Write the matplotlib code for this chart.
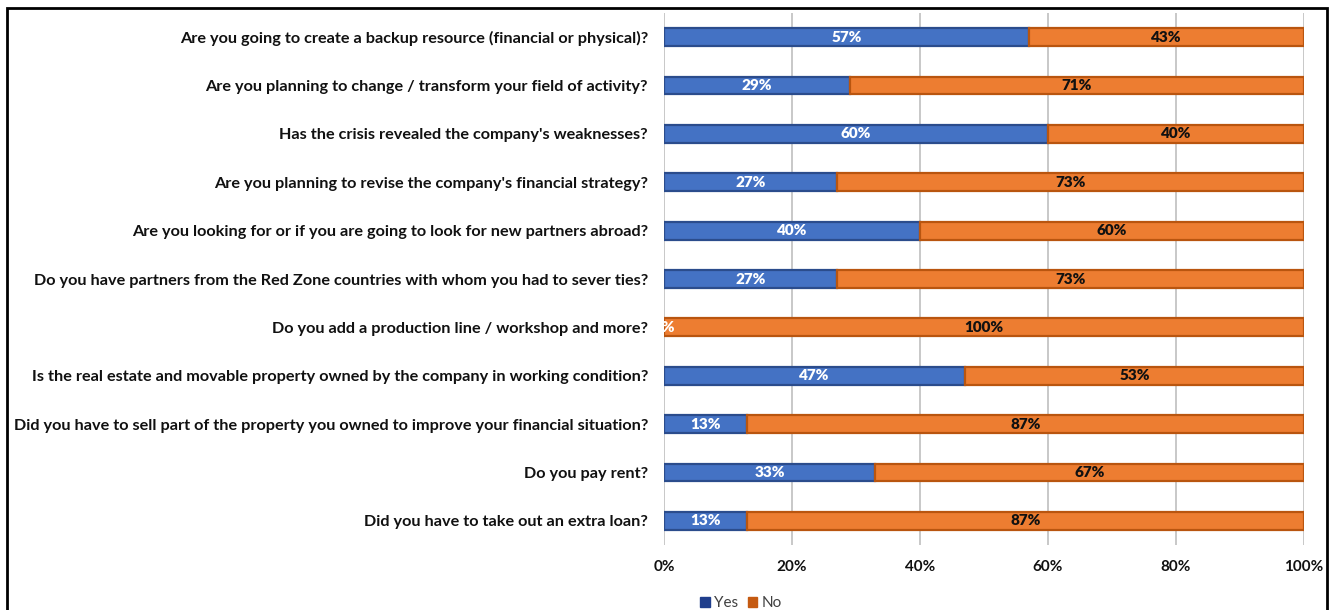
import matplotlib
matplotlib.use("Agg")
import matplotlib.pyplot as plt
from matplotlib.patches import Rectangle, Patch

questions = [
    "Are you going to create a backup resource (financial or physical)?",
    "Are you planning to change / transform your field of activity?",
    "Has the crisis revealed the company's weaknesses?",
    "Are you planning to revise the company's financial strategy?",
    "Are you looking for or if you are going to look for new partners abroad?",
    "Do you have partners from the Red Zone countries with whom you had to sever ties?",
    "Do you add a production line / workshop and more?",
    "Is the real estate and movable property owned by the company in working condition?",
    "Did you have to sell part of the property you owned to improve your financial situation?",
    "Do you pay rent?",
    "Did you have to take out an extra loan?",
]
yes_pct = [57, 29, 60, 27, 40, 27, 0, 47, 13, 33, 13]
no_pct = [43, 71, 40, 73, 60, 73, 100, 53, 87, 67, 87]
x_ticks = [0, 20, 40, 60, 80, 100]

FONT = ["Lato", "DejaVu Sans"]
plt.rcParams["font.family"] = FONT

W, H = 1335, 610
fig = plt.figure(figsize=(W / 100, H / 100), dpi=100)
fig.patch.set_facecolor("white")

ax = fig.add_axes([664 / W, 1 - 545 / H, 640 / W, 532 / H])

pos = list(range(len(questions)))
bar_h = 0.37
blue, blue_edge = "#4472C4", "#2B4C8C"
orange, orange_edge = "#ED7D31", "#B9550F"

ax.barh(pos, yes_pct, height=bar_h, color=blue, edgecolor=blue_edge,
        linewidth=1.6, zorder=3, label="Yes")
ax.barh(pos, no_pct, left=yes_pct, height=bar_h, color=orange,
        edgecolor=orange_edge, linewidth=1.6, zorder=3, label="No")

for p, y, n in zip(pos, yes_pct, no_pct):
    ax.text(y / 2, p, f"{y}%", ha="center", va="center", color="white",
            fontsize=11, fontweight="heavy", zorder=5, clip_on=False)
    ax.text(y + n / 2, p, f"{n}%", ha="center", va="center", color="#111111",
            fontsize=11, fontweight="heavy", zorder=5)

ax.set_xlim(0, 100)
ax.set_ylim(len(questions) - 0.5, -0.5)
ax.set_xticks(x_ticks)
ax.set_xticklabels([f"{t}%" for t in x_ticks], fontsize=11, fontweight="bold",
                   color="#111111")
ax.set_yticks(pos)
ax.set_yticklabels(questions, fontsize=11.7, fontweight="bold", color="#111111")
ax.tick_params(axis="both", length=0)
ax.tick_params(axis="x", pad=11)
ax.tick_params(axis="y", pad=11.5)
ax.grid(axis="x", color="#BFBFBF", linewidth=1.2, zorder=0)
ax.set_axisbelow(True)
for s in ax.spines.values():
    s.set_visible(False)

handles = [Patch(facecolor="#1F3E8C", edgecolor="#1F3E8C"),
           Patch(facecolor="#C55A11", edgecolor="#C55A11")]
fig.legend(handles, ["Yes", "No"], loc="center", bbox_to_anchor=(741 / W, 1 - 603 / H),
           ncol=2, frameon=False, fontsize=11, handlelength=0.65, handleheight=0.65,
           handletextpad=0.3, columnspacing=0.6, labelcolor="#404040")

fig.patches.append(Rectangle((6.5 / W, -0.05), (1327 - 6.5) / W, 1.05 - 8 / H,
                             transform=fig.transFigure, fill=False,
                             edgecolor="black", linewidth=2, zorder=10))

fig.savefig("out.png", dpi=100, facecolor="white")
